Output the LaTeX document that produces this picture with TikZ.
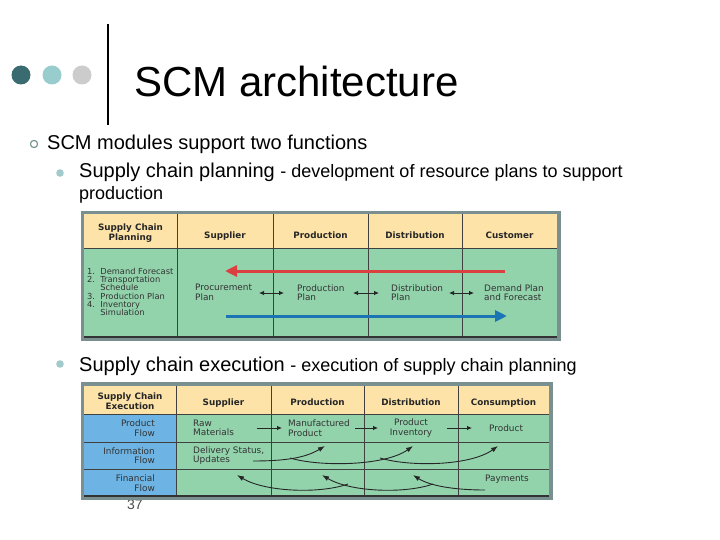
\documentclass[tikz,border=0pt]{standalone}
\usepackage{fontspec}
\setmainfont{Liberation Sans}
\newfontfamily\tabfont{DejaVu Sans}
\usetikzlibrary{arrows.meta}

\definecolor{dotdark}{HTML}{3A6B70}
\definecolor{dotmid}{HTML}{99CCCC}
\definecolor{dotgrey}{HTML}{CCCCCC}
\definecolor{bulletring}{HTML}{6F8F8F}
\definecolor{bulletdot}{HTML}{A3CACA}
\definecolor{headfill}{HTML}{FDE3A8}
\definecolor{bodyfill}{HTML}{92D3AC}
\definecolor{flowfill}{HTML}{6DB3E3}
\definecolor{framecol}{HTML}{7A9090}
\definecolor{planred}{HTML}{D9403F}
\definecolor{planblue}{HTML}{1B75B5}

\tikzset{
  headtext/.style={font=\tabfont\fontsize{8.8}{10}\selectfont\bfseries, align=center, inner sep=0pt, text=black!85},
  celltext/.style={font=\tabfont\fontsize{8.9}{9.5}\selectfont, align=left, anchor=west, inner sep=0pt, text=black!80},
  flowtext/.style={celltext, align=right, anchor=east},
  gridline/.style={line width=0.6pt, black!75},
  pairarrow/.style={{Latex[length=5pt,width=4.5pt]}-{Latex[length=5pt,width=4.5pt]}, line width=0.8pt, black!85},
  steparrow/.style={-{Latex[length=5pt,width=4.5pt]}, line width=0.8pt, black!85},
  flowarrow/.style={-{Latex[length=7pt,width=5pt]}, line width=0.9pt, black!85},
  bigarrow/.style={-{Triangle[length=12pt,width=11pt]}, line width=3pt},
}

\begin{document}
\begin{tikzpicture}[x=1pt, y=-1pt]
  \useasboundingbox[fill=white] (0,0) rectangle (720,540);

  % draw title dots, bar and title
  \fill[dotdark] (21,75) circle (9.5pt);
  \fill[dotmid] (52,75) circle (9.5pt);
  \fill[dotgrey] (82,75) circle (9.5pt);
  \draw[line width=2.5pt] (108,24) -- (108,125);
  \node[anchor=base west, inner sep=0pt, font=\fontsize{42}{42}\selectfont] (title) at (134,97) {SCM architecture};

  % draw bullets
  \draw[bulletring, line width=1.1pt] (34,144) circle (3.6pt);
  \node[anchor=base west, inner sep=0pt, font=\fontsize{20}{24}\selectfont] (modules) at (47,150) {SCM modules support two functions};
  \fill[bulletdot] (60,173) circle (3.8pt);
  \node[anchor=base west, inner sep=0pt, font=\fontsize{20}{24}\selectfont] (planning) at (79,178)
    {Supply chain planning {\fontsize{18}{20}\selectfont - development of resource plans to support}};
  \node[anchor=base west, inner sep=0pt, font=\fontsize{18}{20}\selectfont] (production) at (79,200) {production};
  \fill[bulletdot] (60,364) circle (3.8pt);
  \node[anchor=base west, inner sep=0pt, font=\fontsize{20}{24}\selectfont] (execution) at (79,371)
    {Supply chain execution {\fontsize{18}{20}\selectfont - execution of supply chain planning}};

  % draw planning table
  \fill[framecol] (80.5,211) rectangle (561,341);
  \fill[headfill] (84,214.5) rectangle (557,248);
  \fill[bodyfill] (84,248) rectangle (557,337);
  \draw[gridline] (84,248) -- (557,248);
  \foreach \x in {177,273,368,462}
    \draw[gridline] (\x,214.5) -- (\x,337);
  \draw[line width=1.2pt, black!80] (84,337) -- (557,337);

  \node[headtext] (planhead) at (130.5,233) {Supply Chain\\Planning};
  \foreach \x/\nm/\txt in {225/plansup/Supplier, 320.5/planprod/Production, 415/plandist/Distribution, 509.5/plancust/Customer}
    \node[headtext, anchor=base] (\nm) at (\x,238.5) {\txt};

  \node[celltext, anchor=north west, font=\tabfont\fontsize{8.3}{8.2}\selectfont] (steps) at (87,268)
    {1.\ \ Demand Forecast\\2.\ \ Transportation\\\phantom{2.\ \ }Schedule\\3.\ \ Production Plan\\4.\ \ Inventory\\\phantom{4.\ \ }Simulation};
  \node[celltext] (procplan) at (195,292.5) {Procurement\\Plan};
  \node[celltext] (prodplan) at (297,292.5) {Production\\Plan};
  \node[celltext] (distplan) at (391,292.5) {Distribution\\Plan};
  \node[celltext] (demplan) at (484,292.5) {Demand Plan\\and Forecast};

  % draw plan arrows
  \foreach \a/\b [count=\i] in {259/284, 353/379, 449/474} {
    \coordinate (pl\i) at (\a,293);
    \coordinate (pr\i) at (\b,293);
    \draw[pairarrow] (pl\i) -- (pr\i);
  }
  \coordinate (redstart) at (505,271);
  \coordinate (redend) at (225,271);
  \draw[bigarrow, planred] (redstart) -- (redend);
  \coordinate (bluestart) at (226,316);
  \coordinate (blueend) at (507,316);
  \draw[bigarrow, planblue] (bluestart) -- (blueend);

  % page number, partly under the table
  \node[anchor=base, inner sep=0pt, text=black!70, font=\fontsize{14}{14}\selectfont] (pagenum) at (135,509) {37};

  % draw execution table
  \fill[framecol] (80.5,382) rectangle (553,500);
  \fill[headfill] (84,385.5) rectangle (549,414);
  \fill[bodyfill] (84,414) rectangle (549,496);
  \fill[flowfill] (84,414) rectangle (176,496);
  \foreach \y in {414,442,469}
    \draw[gridline] (84,\y) -- (549,\y);
  \foreach \x in {176,271,364,458}
    \draw[gridline] (\x,385.5) -- (\x,496);
  \draw[line width=1.2pt, black!80] (84,496) -- (549,496);

  \node[headtext] (exechead) at (130,401.5) {Supply Chain\\Execution};
  \foreach \x/\nm/\txt in {223.5/execsup/Supplier, 317.5/execprod/Production, 411/execdist/Distribution, 503.5/execcons/Consumption}
    \node[headtext, anchor=base] (\nm) at (\x,405.5) {\txt};

  \node[flowtext] (prodflow) at (155,428) {Product\\Flow};
  \node[flowtext] (infoflow) at (155,455.5) {Information\\Flow};
  \node[flowtext] (finflow) at (155,483) {Financial\\Flow};

  \node[celltext] (raw) at (193,428) {Raw\\Materials};
  \node[celltext] (manuf) at (288,428) {Manufactured\\Product};
  \node[celltext, align=center, anchor=center] (inventory) at (411,428) {Product\\Inventory};
  \node[celltext] (consprod) at (489,428) {Product};
  \node[celltext] (delivery) at (193,455.5) {Delivery Status,\\Updates};
  \node[celltext] (payments) at (485,479) {Payments};

  % draw product flow arrows
  \foreach \a/\b [count=\i] in {257/282, 355/378, 447/472} {
    \coordinate (sl\i) at (\a,428);
    \coordinate (sr\i) at (\b,428);
    \draw[steparrow] (sl\i) -- (sr\i);
  }

  % draw information flow curves
  \coordinate (info0) at (253,461);
  \coordinate (infoA) at (290,458);
  \coordinate (infoB) at (380,458);
  \coordinate (info1) at (325,446);
  \coordinate (info2) at (413,446);
  \coordinate (info3) at (498,446);
  \draw[flowarrow] (info0) .. controls (285,461) and (305,458) .. (info1);
  \draw[flowarrow] (infoA) .. controls (320,467) and (385,466) .. (info2);
  \draw[flowarrow] (infoB) .. controls (410,467) and (470,466) .. (info3);

  % draw financial flow curves
  \coordinate (fin0) at (485,490);
  \coordinate (finA) at (433,484);
  \coordinate (finB) at (348,484);
  \coordinate (fin1) at (413,475);
  \coordinate (fin2) at (322,475);
  \coordinate (fin3) at (237,475);
  \draw[flowarrow] (fin0) .. controls (455,490) and (430,486) .. (fin1);
  \draw[flowarrow] (finA) .. controls (405,494) and (350,492) .. (fin2);
  \draw[flowarrow] (finB) .. controls (320,494) and (265,492) .. (fin3);

\end{tikzpicture}
\end{document}
